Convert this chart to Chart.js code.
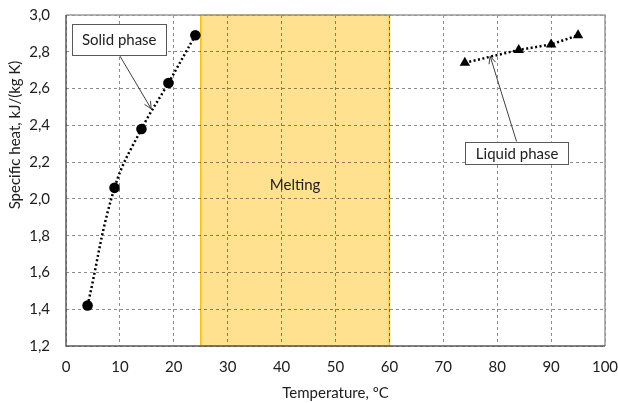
<!DOCTYPE html>
<html>
<head>
<meta charset="utf-8">
<script src="https://cdn.jsdelivr.net/npm/chart.js@4"></script>
<style>
  html,body{margin:0;padding:0;background:#fff;}
  #wrap{width:618px;height:403px;}
</style>
</head>
<body>
<div id="wrap"><canvas id="c"></canvas></div>
<script>
// data
const solidT  = [4, 9, 14, 19, 24];
const solidCp = [1.42, 2.06, 2.38, 2.63, 2.89];
const liquidT  = [74, 84, 90, 95];
const liquidCp = [2.74, 2.81, 2.84, 2.89];
const meltRange = [25, 60];
const xTicks = [0, 10, 20, 30, 40, 50, 60, 70, 80, 90, 100];
const yTicks = [1.2, 1.4, 1.6, 1.8, 2.0, 2.2, 2.4, 2.6, 2.8, 3.0];

const FONT = 'Lato, "Open Sans", sans-serif';
const TXT = '#202020';

// annotation boxes in data units
const notes = [
  {text:'Solid phase',  box:[1.15, 2.951, 18.6, 2.782], from:[9.9, 2.782], to:[15.8, 2.49]},
  {text:'Liquid phase', box:[74.1, 2.311, 93.3, 2.189], from:[83.6, 2.311], to:[78.7, 2.775]}
];

const pts = (xs, ys) => xs.map((x,i)=>({x, y:ys[i]}));

const bandPlugin = {
  id:'band',
  beforeDraw(chart){
    const {ctx, scales:{x,y}} = chart;
    const x0 = x.getPixelForValue(meltRange[0]), x1 = x.getPixelForValue(meltRange[1]);
    const yt = y.getPixelForValue(3.0), yb = y.getPixelForValue(1.2);
    ctx.save();
    ctx.fillStyle = '#FFE18F';
    ctx.fillRect(x0, yt, x1-x0, yb-yt);
    ctx.strokeStyle = '#FFC000'; ctx.lineWidth = 1.5;
    ctx.strokeRect(x0, yt, x1-x0, yb-yt);
    ctx.restore();
  },
  afterDatasetsDraw(chart){
    const {ctx, chartArea:a, scales:{x,y}} = chart;
    ctx.save();
    // plot frame
    ctx.strokeStyle = '#9a9a9a'; ctx.lineWidth = 1.5;
    ctx.beginPath();
    ctx.moveTo(a.left, a.top); ctx.lineTo(a.right, a.top); ctx.lineTo(a.right, a.bottom);
    ctx.stroke();
    ctx.strokeStyle = '#595959';
    ctx.beginPath();
    ctx.moveTo(a.left, a.top); ctx.lineTo(a.left, a.bottom); ctx.lineTo(a.right, a.bottom);
    ctx.stroke();

    // melting label
    ctx.fillStyle = TXT; ctx.font = '15px ' + FONT;
    ctx.textAlign = 'center'; ctx.textBaseline = 'middle';
    ctx.fillText('Melting', x.getPixelForValue((meltRange[0]+meltRange[1])/2), y.getPixelForValue(2.075));

    // callouts
    notes.forEach(n=>{
      const bx0 = x.getPixelForValue(n.box[0]), by0 = y.getPixelForValue(n.box[1]);
      const bx1 = x.getPixelForValue(n.box[2]), by1 = y.getPixelForValue(n.box[3]);
      const fx = x.getPixelForValue(n.from[0]), fy = y.getPixelForValue(n.from[1]);
      const tx = x.getPixelForValue(n.to[0]), ty = y.getPixelForValue(n.to[1]);
      ctx.strokeStyle = '#404040'; ctx.lineWidth = 1;
      ctx.beginPath(); ctx.moveTo(fx, fy); ctx.lineTo(tx, ty); ctx.stroke();
      const ang = Math.atan2(ty-fy, tx-fx), L = 8, w = 0.45;
      ctx.beginPath();
      ctx.moveTo(tx - L*Math.cos(ang-w), ty - L*Math.sin(ang-w));
      ctx.lineTo(tx, ty);
      ctx.lineTo(tx - L*Math.cos(ang+w), ty - L*Math.sin(ang+w));
      ctx.stroke();
      ctx.fillStyle = '#fff';
      ctx.fillRect(bx0, by0, bx1-bx0, by1-by0);
      ctx.strokeStyle = '#595959';
      ctx.strokeRect(Math.round(bx0)+0.5, Math.round(by0)+0.5, Math.round(bx1-bx0), Math.round(by1-by0));
      ctx.fillStyle = TXT; ctx.font = '15px ' + FONT;
      ctx.fillText(n.text, (bx0+bx1)/2, (by0+by1)/2 + 1);
    });

    // axis titles
    ctx.font = '15px ' + FONT; ctx.fillStyle = TXT;
    ctx.fillText('Temperature, ºC', (a.left+a.right)/2, 393);
    ctx.translate(15, 135); ctx.rotate(-Math.PI/2);
    ctx.fillText('Specific heat, kJ/(kg K)', 0, 0);
    ctx.restore();
  }
};

const grid = {color:'rgba(0,0,0,0.45)', lineWidth:1, drawTicks:false};

new Chart(document.getElementById('c'), {
  type:'line',
  data:{datasets:[
    {label:'Solid', data:pts(solidT, solidCp), borderColor:'#000', backgroundColor:'#000',
     borderWidth:2.5, borderDash:[2,2.5], pointRadius:5.3, pointBorderWidth:0, pointStyle:'circle',
     tension:0.4},
    {label:'Liquid', data:pts(liquidT, liquidCp), borderColor:'#000', backgroundColor:'#000',
     borderWidth:2.5, borderDash:[2,2.5], pointRadius:6, pointBorderWidth:0, pointStyle:'triangle'}
  ]},
  options:{
    responsive:true, maintainAspectRatio:false, animation:false,
    layout:{padding:{top:15, right:13, left:0, bottom:0}},
    plugins:{legend:{display:false}, tooltip:{enabled:false}},
    scales:{
      x:{type:'linear', min:0, max:100,
         afterBuildTicks:s=>{ s.ticks = xTicks.map(v=>({value:v})); },
         afterFit:s=>{ s.height = 57; s.paddingLeft = 0; s.paddingRight = 0; },
         grid:grid, border:{display:false, dash:[3,3]},
         ticks:{color:TXT, font:{family:FONT, size:15}, padding:12}},
      y:{min:1.2, max:3.0,
         afterBuildTicks:s=>{ s.ticks = yTicks.map(v=>({value:v})); },
         afterFit:s=>{ s.width = 66; s.paddingTop = 0; s.paddingBottom = 0; },
         grid:grid, border:{display:false, dash:[3,3]},
         ticks:{color:TXT, font:{family:FONT, size:15}, padding:16,
                callback:v=>v.toFixed(1).replace('.', ',')}}
    }
  },
  plugins:[bandPlugin]
});
</script>
</body>
</html>
